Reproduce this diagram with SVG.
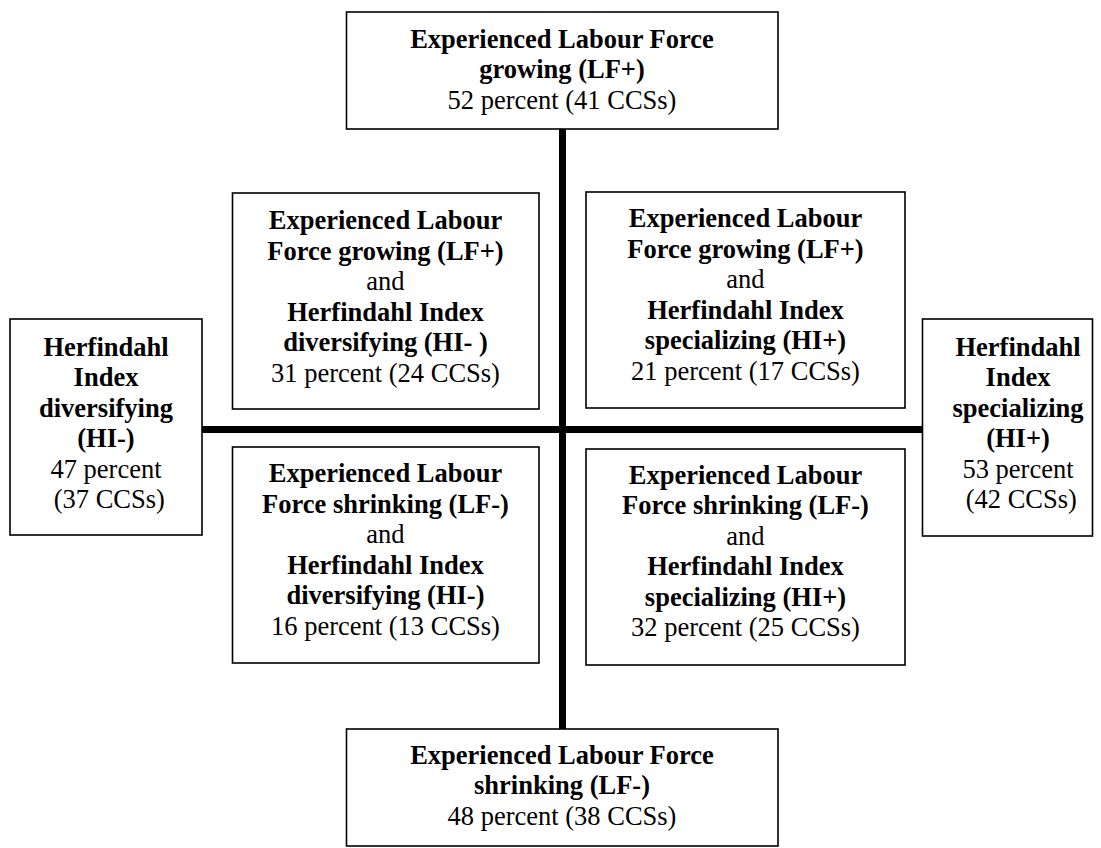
<svg xmlns="http://www.w3.org/2000/svg" width="1101" height="848" viewBox="0 0 1101 848">
<style>
.box{fill:#fff;stroke:#000;stroke-width:1.6}
text{font-family:"Liberation Serif","Times New Roman",serif;font-size:26.5px;fill:#000;text-anchor:middle}
.b{font-weight:bold}
.axis{stroke:#000;stroke-width:7;fill:none}
</style>
<rect width="1101" height="848" fill="#fff"/>
<g id="connectors">
<line class="axis" x1="562.5" y1="129" x2="562.5" y2="729"/>
<line class="axis" x1="202" y1="429.5" x2="922" y2="429.5"/>
</g>
<g id="top">
<rect class="box" x="346.5" y="12" width="431.5" height="117"/>
<text x="562" y="47.5" class="b">Experienced Labour Force</text>
<text x="562" y="78" class="b">growing (LF+)</text>
<text x="562" y="108.5">52 percent (41 CCSs)</text>
</g>
<g id="bottom">
<rect class="box" x="346.5" y="729" width="431.5" height="117"/>
<text x="562" y="763.5" class="b">Experienced Labour Force</text>
<text x="562" y="794" class="b">shrinking (LF-)</text>
<text x="562" y="824.5">48 percent (38 CCSs)</text>
</g>
<g id="left">
<rect class="box" x="10" y="319" width="192" height="216"/>
<text x="106" y="355.5" class="b">Herfindahl</text>
<text x="106" y="386" class="b">Index</text>
<text x="106" y="416.5" class="b">diversifying</text>
<text x="106" y="447" class="b">(HI-)</text>
<text x="106" y="477.5">47 percent</text>
<text x="106" y="508" xml:space="preserve"> (37 CCSs)</text>
</g>
<g id="right">
<rect class="box" x="922.5" y="319" width="170" height="217"/>
<text x="1018" y="355.5" class="b">Herfindahl</text>
<text x="1018" y="386" class="b">Index</text>
<text x="1018" y="416.5" class="b">specializing</text>
<text x="1018" y="447" class="b">(HI+)</text>
<text x="1018" y="477.5">53 percent</text>
<text x="1018" y="508" xml:space="preserve"> (42 CCSs)</text>
</g>
<g id="top-left">
<rect class="box" x="232.5" y="193" width="306.5" height="216"/>
<text x="385.5" y="229" class="b">Experienced Labour</text>
<text x="385.5" y="259.5" class="b">Force growing (LF+)</text>
<text x="385.5" y="290">and</text>
<text x="385.5" y="320.5" class="b">Herfindahl Index</text>
<text x="385.5" y="351" class="b" xml:space="preserve">diversifying (HI- )</text>
<text x="385.5" y="381.5">31 percent (24 CCSs)</text>
</g>
<g id="top-right">
<rect class="box" x="586" y="192" width="319" height="216"/>
<text x="745.5" y="227" class="b">Experienced Labour</text>
<text x="745.5" y="257.5" class="b">Force growing (LF+)</text>
<text x="745.5" y="288">and</text>
<text x="745.5" y="318.5" class="b">Herfindahl Index</text>
<text x="745.5" y="349" class="b">specializing (HI+)</text>
<text x="745.5" y="379.5">21 percent (17 CCSs)</text>
</g>
<g id="bottom-left">
<rect class="box" x="232.5" y="447" width="306.5" height="216"/>
<text x="385.5" y="482" class="b">Experienced Labour</text>
<text x="385.5" y="512.5" class="b">Force shrinking (LF-)</text>
<text x="385.5" y="543">and</text>
<text x="385.5" y="573.5" class="b">Herfindahl Index</text>
<text x="385.5" y="604" class="b">diversifying (HI-)</text>
<text x="385.5" y="634.5">16 percent (13 CCSs)</text>
</g>
<g id="bottom-right">
<rect class="box" x="586" y="449" width="319" height="216"/>
<text x="745.5" y="483.5" class="b">Experienced Labour</text>
<text x="745.5" y="514" class="b">Force shrinking (LF-)</text>
<text x="745.5" y="544.5">and</text>
<text x="745.5" y="575" class="b">Herfindahl Index</text>
<text x="745.5" y="605.5" class="b">specializing (HI+)</text>
<text x="745.5" y="636">32 percent (25 CCSs)</text>
</g>
</svg>
